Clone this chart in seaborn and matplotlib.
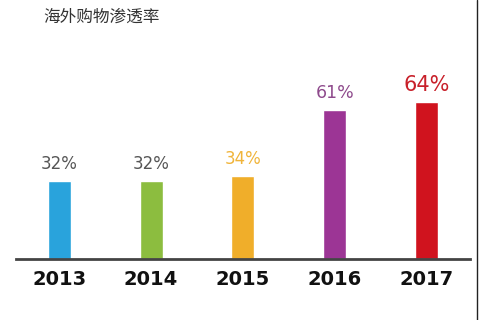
import pandas as pd
import matplotlib.pyplot as plt
import seaborn as sns
from matplotlib.lines import Line2D

# data
years = ["2013", "2014", "2015", "2016", "2017"]
rates = [32, 32, 34, 61, 64]
bar_colors = ["#29a3dc", "#8cbd3f", "#f0ae2a", "#9c3595", "#d0131e"]
label_colors = ["#555555", "#555555", "#f0b43a", "#8e4a8c", "#c8202a"]
label_sizes = [12, 12, 12, 12.5, 15]

df = pd.DataFrame({"year": years, "rate": rates})

sns.set_style("white")
plt.rcParams["font.family"] = ["DejaVu Sans", "Noto Sans CJK SC"]

fig = plt.figure(figsize=(4.8, 3.2), dpi=100)
ax = fig.add_axes([0.033, 0.19, 0.946, 0.716])

sns.barplot(data=df, x="year", y="rate", hue="year", palette=bar_colors,
            legend=False, width=0.25, ax=ax, saturation=1)

ax.set_xlim(-0.474, 4.474)
ax.set_ylim(0, 93.4)

# value labels above bars
for i, (v, c, s) in enumerate(zip(rates, label_colors, label_sizes)):
    ax.text(i, v + 3, f"{v}%", ha="center", va="bottom", color=c, fontsize=s)

sns.despine(ax=ax, left=True, top=True, right=True)
ax.spines["bottom"].set_color("#444444")
ax.spines["bottom"].set_linewidth(2)
ax.set_yticks([])
ax.set_xlabel("")
ax.set_ylabel("")
ax.tick_params(axis="x", length=0, pad=8)
for t in ax.get_xticklabels():
    t.set_fontweight("bold")
    t.set_fontsize(14)
    t.set_color("#111111")

fig.text(0.09, 0.947, "海外购物渗透率", fontsize=12, color="#333333",
         ha="left", va="center", family=["Noto Sans CJK SC", "DejaVu Sans"])

# right border line of the screenshot
fig.add_artist(Line2D([0.994, 0.994], [0, 1], color="#222222", lw=1))

fig.savefig("out.png", dpi=100)
